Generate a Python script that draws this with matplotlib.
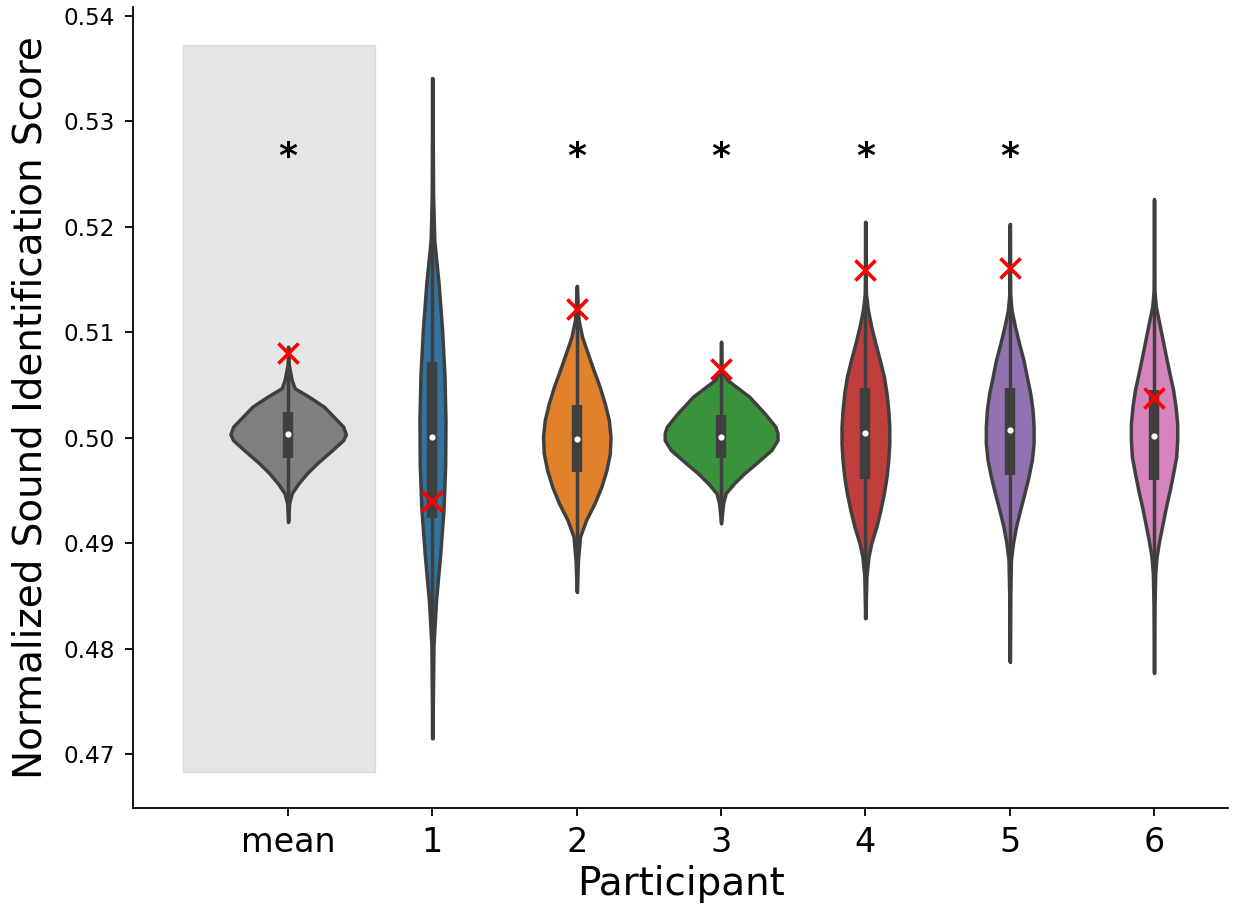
import matplotlib
matplotlib.use('Agg')
import matplotlib.pyplot as plt
from matplotlib.patches import Rectangle
import numpy as np

labels = ['mean', '1', '2', '3', '4', '5', '6']
colors = ['#808080', '#3274a1', '#e1812c', '#3a923a', '#c03d3e', '#9372b2', '#d684bd']

# violin outlines: score level and density (same units for all)
mean_y = [0.50862, 0.50705, 0.50546, 0.50468, 0.50388, 0.50294, 0.50231, 0.50104, 0.50032,
          0.49978, 0.49884, 0.49758, 0.49663, 0.49568, 0.49473, 0.49379, 0.49205]
mean_d = [0, 0.3, 3.5, 6.5, 20.5, 35.2, 41.5, 54.2, 56.8, 54.2, 43.5, 28.5, 18.5, 10.2, 3.5, 1.0, 0]

p1_y = [0.53406, 0.5230, 0.5187, 0.51444, 0.51017, 0.50591, 0.50164, 0.49738, 0.49311,
        0.48884, 0.48458, 0.48031, 0.47605, 0.4715]
p1_d = [0, 0.6, 1.8, 6.2, 9.5, 11.8, 12.8, 12.5, 10.8, 7.5, 3.5, 1.0, 0.5, 0]

p2_y = [0.51437, 0.51273, 0.51115, 0.50956, 0.50799, 0.50641, 0.50483, 0.50326, 0.50168,
        0.50009, 0.49852, 0.49694, 0.49536, 0.49379, 0.49221, 0.49063, 0.48842, 0.48542]
p2_d = [0, 0.8, 1.8, 5.2, 10.8, 16.5, 22.5, 27.5, 31.5, 33.2, 32.5, 29.2, 24.2, 17.5, 9.2, 3.2, 1.2, 0]

p3_y = [0.50909, 0.50705, 0.50641, 0.50546, 0.50388, 0.50231, 0.50104, 0.50042, 0.49978,
        0.49884, 0.49758, 0.49663, 0.49568, 0.49473, 0.49379, 0.49189]
p3_d = [0, 0.3, 0.8, 6.2, 27.8, 42.8, 53.5, 55.5, 55.5, 49.5, 34.5, 22.8, 12.8, 4.5, 2, 0]

p4_y = [0.52045, 0.51525, 0.51367, 0.51209, 0.51051, 0.50894, 0.50736, 0.50578, 0.50420,
        0.50262, 0.50104, 0.49947, 0.49789, 0.49631, 0.49473, 0.49315, 0.49157, 0.49000,
        0.48873, 0.48684, 0.48290]
p4_d = [0, 0.3, 0.5, 2.5, 5.8, 9.8, 14.2, 18.2, 20.8, 22.5, 23.5, 23.5, 22.5, 20.8, 18.2,
        14.8, 10.8, 5.8, 3.0, 1.0, 0]

p5_y = [0.52024, 0.51367, 0.51209, 0.51051, 0.50894, 0.50736, 0.50578, 0.50420, 0.50262,
        0.50104, 0.49947, 0.49789, 0.49631, 0.49473, 0.49315, 0.49157, 0.49000, 0.48842,
        0.48527, 0.47879]
p5_d = [0, 0.3, 1.8, 5.2, 9.2, 13.5, 16.8, 20.2, 22.5, 23.5, 23.5, 21.8, 18.5, 14.5, 10.2,
        6.2, 3.2, 1.2, 0.5, 0]

p6_y = [0.52258, 0.51557, 0.51399, 0.51241, 0.51083, 0.50925, 0.50767, 0.50610, 0.50452,
        0.50294, 0.50136, 0.49978, 0.49820, 0.49663, 0.49505, 0.49347, 0.49189, 0.49031,
        0.48873, 0.48716, 0.48400, 0.47775]
p6_d = [0, 0.2, 0.3, 1.8, 5.2, 8.5, 11.8, 15.2, 18.8, 21.2, 22.8, 22.8, 21.8, 18.8, 15.5,
        11.8, 8.5, 5.2, 2.5, 1.2, 0.4, 0]

q1 = [0.49811, 0.49240, 0.49678, 0.49805, 0.49606, 0.49647, 0.49599]
med = [0.50032, 0.50007, 0.49985, 0.50009, 0.50042, 0.50073, 0.50016]
q3 = [0.50246, 0.50717, 0.50306, 0.50215, 0.50473, 0.50473, 0.50452]
observed = [0.5080, 0.49401, 0.51216, 0.50648, 0.51588, 0.51604, 0.50373]
significant = [True, False, True, True, True, True, False]

outlines = [(mean_y, mean_d), (p1_y, p1_d), (p2_y, p2_d), (p3_y, p3_d),
            (p4_y, p4_d), (p5_y, p5_d), (p6_y, p6_d)]

pos = np.arange(len(labels))
dark = '#3f3f3f'

fig = plt.figure(figsize=(12.33, 9.09), dpi=100)
ax = fig.add_axes([0.108, 0.111, 0.888, 0.881])

ax.add_patch(Rectangle((-0.7275, 0.46835), 1.33, 0.0689, color='gray', alpha=0.2, zorder=0))

peak = max(max(d) for _, d in outlines)
stats = []
for (y, d), m in zip(outlines, med):
    stats.append({'coords': np.array(y), 'vals': np.array(d, dtype=float),
                  'mean': m, 'median': m, 'min': min(y), 'max': max(y)})
widths = [0.8 * max(d) / peak for _, d in outlines]
parts = ax.violin(stats, positions=pos, widths=widths,
                  showmeans=False, showextrema=False, showmedians=False)
for body, c in zip(parts['bodies'], colors):
    body.set_facecolor(c)
    body.set_edgecolor(dark)
    body.set_linewidth(2.5)
    body.set_joinstyle('round')
    body.set_alpha(1)
    body.set_zorder(2)

for i, (y, d) in enumerate(outlines):
    ax.plot([i, i], [min(y), max(y)], color=dark, lw=2.5, solid_capstyle='round', zorder=3)
    ax.plot([i, i], [q1[i], q3[i]], color=dark, lw=7.5, solid_capstyle='butt', zorder=3)
ax.scatter(pos, med, s=12, color='white', zorder=4)
ax.scatter(pos, observed, marker='x', s=210, color='red', linewidths=2.6, zorder=5)

for i, sig in enumerate(significant):
    if sig:
        ax.text(i, 0.52565, '*', ha='center', va='baseline', fontsize=26, fontweight='bold')

ax.set_xlim(-1.074, 6.513)
ax.set_ylim(0.4649, 0.54079)
ax.set_xticks(pos)
ax.set_xticklabels(labels, fontsize=24)
ax.set_yticks([0.47, 0.48, 0.49, 0.50, 0.51, 0.52, 0.53, 0.54])
ax.set_yticklabels(['0.47', '0.48', '0.49', '0.50', '0.51', '0.52', '0.53', '0.54'], fontsize=16.7)
ax.tick_params(axis='y', length=6, width=1.3, pad=7)
ax.tick_params(axis='x', length=6, width=1.3, pad=7)
ax.set_xlabel('Participant', fontsize=28)
ax.set_ylabel('Normalized Sound Identification Score', fontsize=28, labelpad=10)
ax.spines['top'].set_visible(False)
ax.spines['right'].set_visible(False)
ax.spines['left'].set_linewidth(1.3)
ax.spines['bottom'].set_linewidth(1.3)

fig.savefig('out.png', dpi=100)
